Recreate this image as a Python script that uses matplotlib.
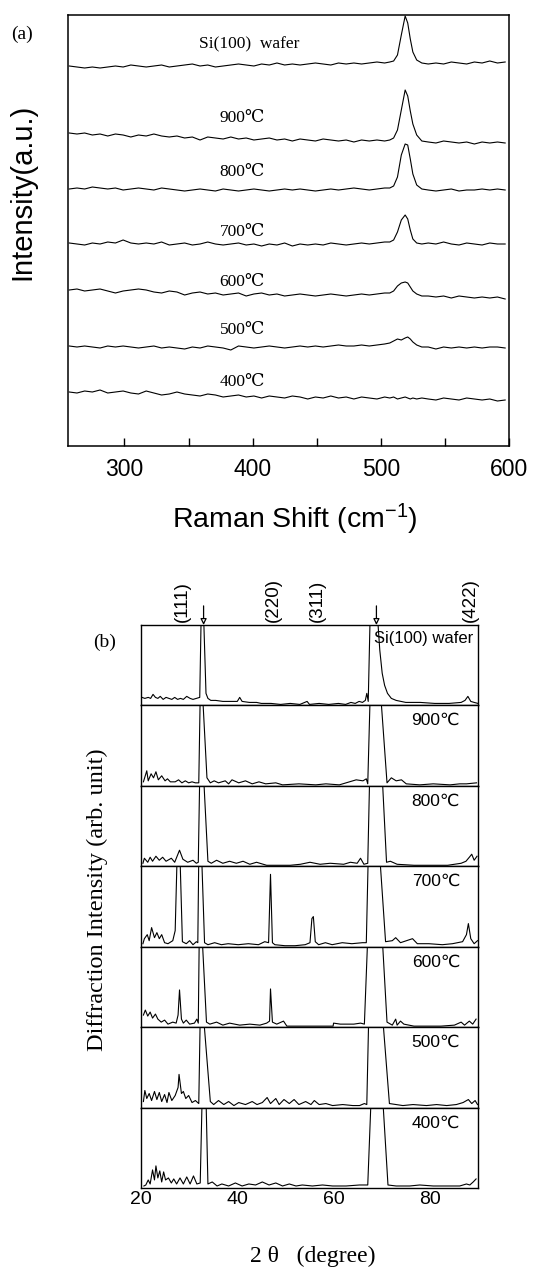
import numpy as np
import matplotlib
matplotlib.use("Agg")
import matplotlib.pyplot as plt

plt.rcParams['font.family'] = ['Liberation Sans', 'DejaVu Sans']
plt.rcParams['mathtext.default'] = 'regular'

SERIF = ['Liberation Serif', 'DejaVu Serif', 'Noto Sans CJK JP']
SANS = ['Liberation Sans', 'DejaVu Sans']

# ---------------- (a) Raman spectra ----------------
sample_names = ['Si(100)  wafer', '900℃', '800℃', '700℃', '600℃', '500℃', '400℃']

raman_shift = [257, 263, 269, 275, 281, 287, 293, 299, 305, 311, 317, 323, 329, 335,
               341, 347, 353, 359, 365, 371, 377, 383, 389, 395, 401, 407, 413, 419,
               425, 431, 437, 443, 449, 455, 461, 467, 473, 479, 485, 491, 497, 503,
               507, 510, 513, 516, 519, 521, 523, 525, 528, 532,
               537, 543, 549, 555, 561, 567, 573, 579, 585, 591, 597]

# vertical offset of each spectrum (a.u.)
raman_offsets = [381, 308, 257, 202, 152, 99, 50]

raman_wafer = [-1, -2, -3, -2, -3, -2, -1, -2, 0, -1, -2, -1, 0, -2, -1, 0, 1, -1, 0, -2, -1,
               0, 1, 0, -1, 1, 0, 2, 0, 1, 0, 1, 2, 1, 0, 2, 1, 2, 1, 2, 3, 2,
               3, 4, 10, 30, 49, 42, 26, 13, 5, 2,
               1, 2, 1, 3, 2, 1, 3, 2, 4, 2, 3]
raman_900 = [5, 4, 5, 3, 4, 2, 4, 3, 1, 3, 2, 4, 2, 1, 2, 0, 1, -2, 1, 0, -1,
             1, -1, 0, -2, -1, 0, -2, -1, -3, -1, -2, -3, -1, -2, -3, -2, -4, -2, -3, -2, -3,
             -2, 0, 8, 28, 48, 42, 27, 14, 3, -3,
             -4, -5, -3, -4, -5, -4, -6, -4, -5, -4, -5]
raman_800 = [0, 1, 0, 2, 1, 0, 1, -1, 0, 1, 0, -1, 1, 0, -1, -2, -1, 0, -1, -2, 0,
             -1, -2, -1, 0, -1, -2, -1, 0, -1, 0, -1, -2, -1, 0, -1, 0, 1, 0, -1, 0, 1,
             1, 3, 12, 34, 45, 44, 30, 15, 4, 0,
             -1, -2, -1, 0, -2, -1, -1, 0, -1, 0, -1]
raman_700 = [1, 0, -1, 1, 0, 2, 1, 4, 1, 0, 1, 0, 2, -1, 0, 1, -1, 0, 2, 0, -1,
             0, 1, -1, 0, -2, 0, -1, 1, -2, 0, -1, 0, -1, 1, 0, -1, 0, 1, 0, 1, 2,
             2, 4, 12, 24, 29, 25, 14, 5, 1, 0,
             1, 0, 2, 0, -1, 1, 0, -1, 1, 0, 0]
raman_600 = [4, 5, 3, 4, 5, 3, 1, 3, 4, 5, 4, 2, 1, 3, 2, -1, 1, 2, 0, 1, -1,
             0, 1, -2, 0, 1, -1, 0, -2, -1, 0, -1, -2, -1, 0, -1, -2, -1, 0, -1, 0, 1,
             1, 3, 8, 11, 12, 11, 7, 3, 0, -2,
             -2, -3, -2, -4, -2, -3, -4, -3, -4, -3, -5]
raman_500 = [1, 0, 1, 0, -1, 1, 0, 1, 0, -1, 0, 1, -1, 0, -1, -2, 0, -1, 1, 0, -1,
             -3, 1, 0, -1, 0, 1, 0, -1, 0, 1, 0, 1, 0, 1, 2, 1, 1, 2, 1, 2, 3,
             4, 6, 8, 7, 9, 10, 8, 5, 2, 0,
             0, -2, 0, -1, 0, -1, 0, -1, 0, 0, -1]
raman_400 = [4, 3, 5, 4, 6, 3, 4, 5, 3, 2, 5, 3, 1, 2, 4, 2, 1, 0, 2, 1, -1,
             0, 1, -1, 0, -2, 0, -1, -2, 0, -1, -3, -1, -2, 0, -2, -1, -3, -1, -2, -3, -1,
             -2, -1, -3, -2, -1, -2, -3, -2, -3, -2,
             -3, -4, -2, -3, -4, -2, -3, -4, -3, -5, -4]
raman_spectra = [raman_wafer, raman_900, raman_800, raman_700, raman_600, raman_500, raman_400]

# ---------------- (b) XRD patterns (90 = off scale, clipped) ----------------
xrd_wafer = [(20.2, 8), (20.8, 7), (21.5, 8), (22.0, 7), (22.5, 11), (23.0, 8), (23.5, 7), (24.0, 9),
             (24.6, 6), (25.2, 8), (25.8, 7), (26.4, 6), (27.0, 8), (27.6, 6), (28.2, 7), (28.8, 6),
             (29.5, 9), (30.2, 7), (30.8, 6), (31.5, 7), (32.2, 8), (32.5, 90), (33.0, 90), (33.5, 12),
             (33.9, 7), (34.5, 5), (35.5, 5), (37.0, 4), (38.5, 4), (40.0, 4), (40.5, 8), (41.0, 4),
             (42.5, 3), (44.0, 3), (45.0, 2), (47.0, 2), (49.0, 1), (51.0, 2), (53.0, 1), (54.5, 4),
             (55.0, 1), (57.0, 2), (59.0, 1), (61.0, 2), (62.5, 1), (63.6, 3), (64.5, 2), (65.3, 4),
             (66.0, 3), (66.6, 5), (66.9, 12), (67.2, 4), (67.6, 90), (69.1, 90), (69.6, 55), (70.1, 32),
             (70.6, 20), (71.2, 12), (72.0, 7), (73.0, 5), (75.0, 3), (78.0, 3), (81.0, 2), (84.0, 2),
             (86.5, 3), (87.3, 5), (87.9, 9), (88.5, 4), (89.2, 3), (90.0, 2)]
xrd_900 = [(20.5, 4), (21.2, 15), (21.5, 5), (22.1, 12), (22.6, 8), (23.1, 14), (23.6, 6), (24.3, 10),
           (25.0, 5), (25.5, 7), (26.1, 4), (27.1, 4), (27.8, 6), (28.5, 3), (29.2, 5), (29.9, 3),
           (30.6, 4), (31.3, 3), (32.0, 3), (32.3, 90), (32.8, 90), (33.7, 8), (34.4, 3), (35.2, 5),
           (36.1, 3), (37.5, 5), (38.2, 2), (38.9, 6), (40.3, 3), (41.7, 5), (43.1, 2), (44.5, 4),
           (45.9, 2), (48.0, 3), (49.4, 1), (52.8, 2), (56.3, 1), (58.4, 2), (61.2, 1), (63.3, 4),
           (64.7, 6), (66.1, 5), (66.8, 7), (67.1, 2), (67.6, 90), (69.8, 90), (71.1, 3), (72.0, 8),
           (73.0, 5), (74.1, 6), (75.1, 2), (77.9, 1), (80.7, 2), (84.2, 1), (86.2, 2), (87.6, 2),
           (89.7, 3)]
xrd_800 = [(20.4, 3), (20.7, 8), (21.4, 4), (21.9, 9), (22.4, 5), (23.1, 10), (23.8, 6), (24.5, 9),
           (25.2, 5), (26.3, 8), (27.0, 4), (28.0, 16), (28.7, 7), (29.7, 4), (30.8, 6), (31.5, 3),
           (31.9, 4), (32.2, 90), (33.0, 90), (33.9, 5), (34.6, 3), (35.7, 6), (37.0, 3), (38.4, 5),
           (39.8, 3), (41.2, 5), (42.6, 2), (44.0, 4), (46.1, 1), (48.2, 1), (51.0, 1), (53.1, 2),
           (55.1, 4), (57.2, 2), (59.3, 3), (62.1, 2), (63.5, 4), (64.9, 3), (65.6, 8), (66.3, 2),
           (67.1, 3), (67.5, 90), (70.1, 90), (71.0, 4), (71.8, 5), (73.2, 2), (76.7, 1), (80.2, 1),
           (83.7, 1), (86.5, 3), (87.5, 5), (88.2, 9), (88.7, 12), (89.2, 6), (89.8, 10)]
xrd_700 = [(20.4, 3), (20.7, 8), (21.3, 12), (21.7, 6), (22.2, 19), (22.8, 9), (23.3, 14), (23.8, 8),
           (24.3, 12), (24.9, 4), (25.6, 3), (26.6, 6), (27.1, 16), (27.5, 90), (28.1, 90), (28.6, 5),
           (29.4, 3), (30.1, 6), (30.8, 2), (31.5, 5), (31.8, 4), (32.0, 90), (32.6, 90), (33.2, 4),
           (33.9, 2), (35.3, 4), (36.7, 2), (38.1, 3), (40.2, 2), (42.3, 3), (44.4, 2), (45.7, 5),
           (46.5, 4), (46.9, 72), (47.3, 4), (47.8, 2), (49.9, 1), (52.0, 1), (54.1, 2), (55.1, 4),
           (55.5, 28), (55.8, 30), (56.2, 5), (56.9, 2), (58.3, 4), (59.7, 2), (61.8, 4), (63.8, 3),
           (66.0, 4), (66.8, 4), (67.2, 90), (69.6, 90), (70.8, 5), (72.2, 6), (72.9, 9), (73.9, 4),
           (76.4, 8), (77.4, 3), (79.8, 3), (82.6, 2), (84.7, 3), (86.8, 5), (87.6, 12), (88.0, 23),
           (88.5, 8), (89.2, 3), (89.9, 6)]
xrd_600 = [(20.5, 12), (20.9, 17), (21.4, 11), (21.9, 15), (22.4, 9), (23.0, 13), (23.5, 8), (24.2, 5),
           (24.9, 7), (25.6, 3), (26.6, 5), (27.3, 4), (27.7, 12), (28.0, 37), (28.4, 8), (28.8, 4),
           (29.4, 7), (30.1, 3), (31.1, 4), (31.6, 8), (31.9, 4), (32.1, 90), (32.7, 90), (33.6, 5),
           (34.3, 3), (35.7, 5), (37.0, 2), (38.4, 4), (40.5, 2), (42.6, 3), (44.7, 2), (46.1, 4),
           (46.7, 6), (46.9, 38), (47.3, 5), (48.2, 3), (49.6, 6), (50.3, 1), (54.4, 1), (58.6, 1),
           (59.9, 1), (60.0, 4), (61.4, 3), (64.2, 3), (65.6, 4), (66.4, 3), (67.1, 90), (70.1, 90),
           (71.1, 5), (72.2, 2), (72.9, 8), (73.2, 2), (73.9, 6), (74.6, 3), (76.7, 1), (79.5, 1),
           (82.3, 1), (85.1, 2), (86.5, 5), (87.2, 2), (88.2, 6), (88.9, 3), (89.6, 8)]
xrd_500 = [(20.5, 6), (20.8, 17), (21.2, 9), (21.7, 14), (22.2, 7), (22.8, 16), (23.3, 8), (23.8, 15),
           (24.3, 6), (24.9, 13), (25.4, 5), (25.8, 15), (26.4, 7), (27.1, 12), (27.7, 20), (27.9, 33),
           (28.4, 14), (28.8, 16), (29.3, 9), (29.9, 12), (30.6, 5), (31.3, 7), (32.0, 4), (32.3, 90),
           (33.0, 90), (34.4, 6), (35.1, 3), (36.1, 7), (37.2, 3), (38.2, 6), (39.3, 2), (40.3, 5),
           (41.7, 3), (43.1, 6), (44.1, 3), (45.2, 5), (46.2, 10), (46.9, 4), (48.0, 9), (48.7, 3),
           (49.7, 8), (50.8, 4), (51.8, 8), (52.8, 3), (54.2, 6), (55.3, 3), (56.0, 7), (57.0, 3),
           (58.4, 4), (59.8, 2), (61.9, 3), (64.0, 2), (65.4, 2), (66.4, 4), (66.9, 3), (67.3, 90),
           (70.2, 90), (71.6, 4), (73.0, 3), (74.4, 2), (76.5, 3), (79.3, 2), (81.4, 3), (83.5, 2),
           (85.5, 3), (86.9, 5), (88.0, 8), (88.7, 4), (89.4, 7), (89.9, 3)]
xrd_400 = [(20.6, 2), (21.0, 3), (21.5, 8), (21.9, 4), (22.4, 18), (22.8, 8), (23.1, 22), (23.5, 10),
           (23.9, 17), (24.3, 6), (24.7, 16), (25.1, 8), (25.7, 10), (26.3, 5), (26.8, 9), (27.4, 4),
           (28.1, 10), (28.8, 4), (29.5, 11), (30.2, 4), (30.9, 12), (31.6, 4), (32.3, 5), (32.7, 90),
           (33.5, 90), (33.9, 4), (34.8, 6), (35.8, 2), (36.8, 4), (38.2, 2), (39.6, 5), (41.0, 2),
           (42.4, 4), (43.8, 3), (45.2, 6), (46.6, 3), (48.0, 5), (49.4, 2), (50.8, 4), (52.2, 2),
           (53.5, 3), (55.6, 2), (57.7, 3), (59.8, 2), (62.6, 2), (65.4, 3), (67.1, 3), (67.8, 90),
           (70.2, 90), (71.3, 3), (73.0, 2), (75.8, 2), (77.9, 3), (80.7, 2), (83.5, 2), (86.2, 2),
           (87.6, 4), (88.3, 3), (89.0, 6), (89.6, 9)]
xrd_patterns = [xrd_wafer, xrd_900, xrd_800, xrd_700, xrd_600, xrd_500, xrd_400]
xrd_names = ['Si(100) wafer', '900℃', '800℃', '700℃', '600℃', '500℃', '400℃']

hkl_labels = ['(111)', '(220)', '(311)', '(422)']
hkl_pos = [28.6, 47.5, 56.6, 88.5]
arrow_pos = [33.0, 68.9]   # Si(100) substrate reflections

# ---------------- figure ----------------
W, H = 534, 1268
fig = plt.figure(figsize=(W / 100, H / 100), dpi=100)


def box(l, t, r, b):
    return [l / W, 1 - b / H, (r - l) / W, (b - t) / H]


# panel (a)
ax = fig.add_axes(box(68, 15, 509, 446))
for off, vals in zip(raman_offsets, raman_spectra):
    ax.plot(raman_shift, np.array(vals) + off, color='k', lw=0.8)
ax.set_xlim(256, 600)
ax.set_ylim(0, 431)
ax.set_xticks([300, 400, 500, 600])
ax.set_xticks([350, 450, 550], minor=True)
ax.set_yticks([])
ax.tick_params(axis='x', which='both', direction='in', length=6, width=1, top=False)
ax.tick_params(axis='x', labelsize=16.5, pad=9)
for s in ax.spines.values():
    s.set_linewidth(1.1)

label_y = [402, 328, 274, 214, 164, 116, 64]
for name, y in zip(sample_names, label_y):
    ax.text(397 if 'wafer' in name else 392, y, name, family=SERIF, fontsize=12.5,
            ha='center', va='center')

fig.text(22 / W, 1 - 192 / H, 'Intensity(a.u.)', rotation=90, fontsize=21,
         ha='center', va='center')
fig.text(295 / W, 1 - 519 / H, 'Raman Shift (cm$^{-1}$)', fontsize=20.5,
         ha='center', va='center')
fig.text(22 / W, 1 - 34 / H, '(a)', family=SERIF, fontsize=14, ha='center', va='center')

# panel (b)
top, bottom = 625, 1188
row_h = (bottom - top) / 7
axes = []
for i, (pat, name) in enumerate(zip(xrd_patterns, xrd_names)):
    t = top + i * row_h
    a = fig.add_axes(box(141, t, 478, t + row_h))
    x, y = zip(*pat)
    a.plot(x, y, color='k', lw=0.8)
    a.set_xlim(20, 90)
    a.set_ylim(0, 80)
    a.set_yticks([])
    a.set_xticks([20, 40, 60, 80])
    a.tick_params(axis='x', length=0, labelbottom=(i == 6), labelsize=14, pad=2)
    for s in a.spines.values():
        s.set_linewidth(1.0)
    if i == 0:
        a.text(0.84, 0.83, name, transform=a.transAxes, family=SANS, fontsize=12,
               ha='center', va='center')
    else:
        a.text(0.875, 0.81, name, transform=a.transAxes, family=SANS, fontsize=12.5,
               ha='center', va='center')
    axes.append(a)

a0 = axes[0]
for lab, xp in zip(hkl_labels, hkl_pos):
    a0.text(xp, 83, lab, rotation=90, fontsize=13.5, ha='center', va='bottom')
for xp in arrow_pos:
    a0.annotate('', xy=(xp, 80), xytext=(xp, 99), annotation_clip=False,
                arrowprops=dict(arrowstyle='-|>', lw=0.9, color='k', fc='white',
                                mutation_scale=9, shrinkA=0, shrinkB=0))

fig.text(97 / W, 1 - 900 / H, 'Diffraction Intensity (arb. unit)', family=SERIF,
         rotation=90, fontsize=17.5, ha='center', va='center')
fig.text(313 / W, 1 - 1256 / H, '2 θ   (degree)', family=SERIF, fontsize=17,
         ha='center', va='center')
fig.text(105 / W, 1 - 642 / H, '(b)', family=SERIF, fontsize=14, ha='center', va='center')

fig.savefig('out.png', dpi=100)
